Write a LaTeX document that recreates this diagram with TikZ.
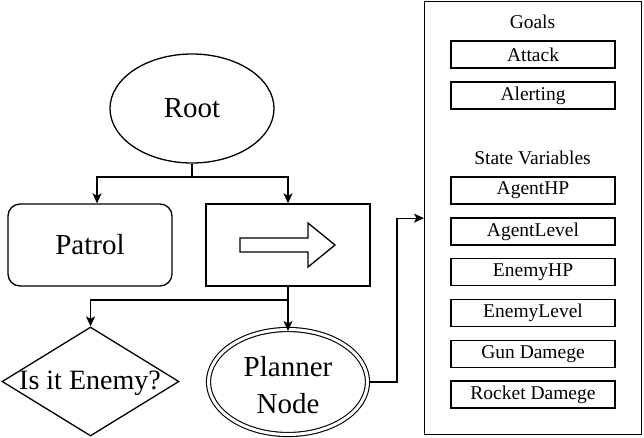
\documentclass[tikz,border=0pt]{standalone}
\usepackage{fontspec}
\setmainfont{Liberation Serif}
\usetikzlibrary{shapes.geometric,arrows.meta}
\begin{document}
\begin{tikzpicture}[x=1pt,y=-1pt,
  line width=1.3pt,
  arr/.style={-{Stealth[length=10pt,width=9pt,inset=2.5pt]}},
  bigtxt/.style={font=\fontsize{29}{37}\selectfont},
  smalltxt/.style={font=\fontsize{19.5}{23}\selectfont},
  varbox/.style={draw, rectangle, minimum width=164pt, minimum height=27pt, inner sep=0pt, smalltxt},
]
\useasboundingbox (0,0) rectangle (644,437);
% left tree
\node[draw, ellipse, minimum width=164pt, minimum height=109pt, inner sep=0pt, bigtxt] (root) at (192,108.5) {Root};
\node[draw, rectangle, rounded corners=12pt, minimum width=164pt, minimum height=82pt, inner sep=0pt, bigtxt] (patrol) at (90,245) {Patrol};
\node[draw, rectangle, minimum width=164pt, minimum height=82pt, inner sep=0pt] (act) at (288,245) {};
\draw (240,238) -- (308,238) -- (308,223) -- (335,245) -- (308,267) -- (308,252) -- (240,252) -- cycle;
\node[draw, diamond, minimum width=177pt, minimum height=109pt, inner sep=0pt] (enemy) at (90.5,381.5) {};
\node[font=\fontsize{28}{34}\selectfont, inner sep=0pt] (enemytxt) at (90,383) {Is it Enemy?};
\node[draw, ellipse, double, double distance=3pt, line width=1.1pt, minimum width=159pt, minimum height=105pt, inner sep=0pt, bigtxt, align=center] (planner) at (288,382) {};
\node[bigtxt, align=center, inner sep=0pt] (plannertxt) at (288,385) {Planner\\Node};
% panel
\node[draw, rectangle, minimum width=217pt, minimum height=433pt, inner sep=0pt, anchor=north west] (panel) at (424,1) {};
\node[smalltxt] (goals) at (532.5,22) {Goals};
\node[varbox] (attack) at (533,54.5) {Attack};
\node[varbox] (alerting) at (533,95.5) {Alerting};
\node[smalltxt] (statevars) at (532.5,158) {State Variables};
\node[varbox] (agenthp) at (533,190.5) {AgentHP};
\node[varbox] (agentlevel) at (533,231.5) {AgentLevel};
\node[varbox] (enemyhp) at (533,272) {EnemyHP};
\node[varbox] (enemylevel) at (533,313) {EnemyLevel};
\node[varbox] (gun) at (533,354) {Gun Damege};
\node[varbox] (rocket) at (533,394.5) {Rocket Damege};
% connectors
\coordinate (j1) at (192,177);
\coordinate (j2) at (288,300);
\draw (root.south) -- (j1);
\draw[arr] (j1) -| ([xshift=7pt]patrol.north);
\draw[arr] (j1) -| (act.north);
\draw (act.south) -- (j2);
\draw[arr] (j2) -| (enemy.north);
\draw[arr] (j2) -- ([yshift=-2pt]planner.north);
\draw[arr] ([xshift=2pt]planner.east) -- (397,382) |- (panel.west);
\end{tikzpicture}
\end{document}
